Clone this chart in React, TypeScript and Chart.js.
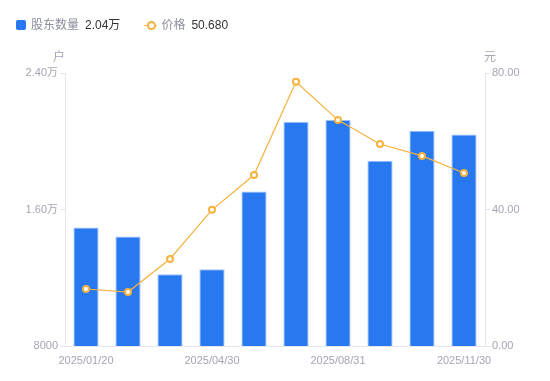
import React, { useEffect, useRef } from "react";
import { Chart, registerables } from "chart.js";

Chart.register(...registerables);

const categories = [
  "2025/01/20", "2025/02/28", "2025/03/31", "2025/04/30", "2025/06/30",
  "2025/07/31", "2025/08/31", "2025/09/30", "2025/10/31", "2025/11/30",
];
const holders = [14950, 14420, 12200, 12500, 17050, 21140, 21250, 18860, 20610, 20400];
const prices = [16.7, 15.8, 25.5, 39.9, 50.1, 77.4, 66.2, 59.2, 55.7, 50.68];
const shownLabels = [0, 3, 6, 9];
const leftTicks = [8000, 16000, 24000];
const rightTicks = [0, 40, 80];

const FONT = '"Liberation Sans", "Noto Sans CJK SC", sans-serif';
const GREY = "#a3a6b4";
const BLUE = "#2878f0";
const ORANGE = "#f6b23e";

function fmtHolders(v: number) {
  if (v >= 10000) return (v / 10000).toFixed(2) + "万";
  return String(v);
}

const unitPlugin = {
  id: "units",
  afterDraw(chart: any) {
    const ctx = chart.ctx;
    const a = chart.chartArea;
    ctx.save();
    ctx.fillStyle = GREY;
    ctx.font = `12px ${FONT}`;
    ctx.textAlign = "center";
    ctx.textBaseline = "middle";
    ctx.fillText("户", a.left - 6, 58);
    ctx.fillText("元", a.right + 5, 58);
    ctx.restore();
  },
};

export default function App() {
  const ref = useRef<HTMLCanvasElement | null>(null);
  useEffect(() => {
    document.body.style.margin = "0";
    const chart = new Chart(ref.current!, {
      type: "bar",
      data: {
        labels: categories,
        datasets: [
          {
            type: "line",
            label: "价格",
            data: prices,
            yAxisID: "y1",
            borderColor: ORANGE,
            borderWidth: 1.2,
            pointRadius: 3,
            pointBorderWidth: 2,
            pointBackgroundColor: "#ffffff",
            pointBorderColor: ORANGE,
            tension: 0,
            order: 0,
          } as any,
          {
            type: "bar",
            label: "股东数量",
            data: holders,
            yAxisID: "y",
            backgroundColor: BLUE,
            borderColor: "#9cc2f7",
            borderWidth: { top: 1, left: 1, right: 1, bottom: 0 },
            barPercentage: 0.6,
            categoryPercentage: 1,
            order: 1,
          } as any,
        ],
      },
      options: {
        animation: false,
        responsive: false,
        layout: { padding: { top: 73, left: 0, right: 0, bottom: 0 } },
        plugins: { legend: { display: false }, tooltip: { enabled: false } },
        scales: {
          x: {
            grid: { display: false },
            border: { color: "#e3e6ec" },
            ticks: {
              autoSkip: false,
              maxRotation: 0,
              color: GREY,
              font: { family: FONT, size: 11 },
              padding: 0,
              callback: (_v: any, i: number) => (shownLabels.includes(i) ? categories[i] : ""),
            },
            afterFit: (s: any) => { s.height = 35; },
          },
          y: {
            position: "left",
            min: 8000,
            max: 24000,
            afterBuildTicks: (s: any) => { s.ticks = leftTicks.map((v) => ({ value: v })); },
            grid: { drawOnChartArea: false, drawTicks: true, tickLength: 5, color: "#e3e6ec" },
            border: { color: "#e3e6ec" },
            ticks: {
              color: GREY,
              font: { family: FONT, size: 11 },
              padding: 2,
              callback: (v: any) => fmtHolders(Number(v)),
            },
            afterFit: (s: any) => { s.width = 65; },
          },
          y1: {
            position: "right",
            min: 0,
            max: 80,
            afterBuildTicks: (s: any) => { s.ticks = rightTicks.map((v) => ({ value: v })); },
            grid: { drawOnChartArea: false, drawTicks: true, tickLength: 5, color: "#e3e6ec" },
            border: { color: "#e3e6ec" },
            ticks: {
              color: GREY,
              font: { family: FONT, size: 11 },
              padding: 2,
              callback: (v: any) => Number(v).toFixed(2),
            },
            afterFit: (s: any) => { s.width = 65; },
          },
        },
      },
      plugins: [unitPlugin],
    });
    return () => chart.destroy();
  }, []);

  const lastH = holders[holders.length - 1];
  const lastP = prices[prices.length - 1];

  return (
    <div style={{ position: "relative", width: 550, height: 381, fontFamily: FONT }}>
      <canvas ref={ref} width={550} height={381} style={{ position: "absolute", left: 0, top: 0 }} />
      <div style={{ position: "absolute", left: 16, top: 16, display: "flex", alignItems: "center", fontSize: 12, lineHeight: "18px" }}>
        <span style={{ display: "inline-block", width: 10, height: 10, background: BLUE, borderRadius: 2, marginRight: 5 }} />
        <span style={{ color: "#8c8f9c" }}>股东数量</span>
        <span style={{ color: "#333", marginLeft: 6 }}>{fmtHolders(lastH)}</span>
        <span style={{ position: "relative", display: "inline-block", width: 13, height: 10, marginLeft: 24, marginRight: 4 }}>
          <span style={{ position: "absolute", left: 0, right: 0, top: 4.5, height: 1.5, background: ORANGE }} />
          <span style={{ position: "absolute", left: 2.5, top: 1, width: 5, height: 5, borderRadius: "50%", border: `2px solid ${ORANGE}`, background: "#fff" }} />
        </span>
        <span style={{ color: "#8c8f9c" }}>价格</span>
        <span style={{ color: "#333", marginLeft: 6 }}>{lastP.toFixed(3)}</span>
      </div>
    </div>
  );
}
